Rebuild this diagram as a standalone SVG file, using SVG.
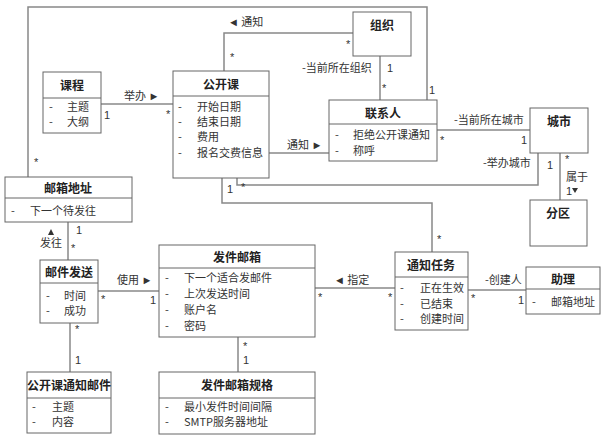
<svg xmlns="http://www.w3.org/2000/svg" width="606" height="443" viewBox="0 0 606 443">
<style>
.box{fill:#fff;stroke:#666;stroke-width:1}
.div{stroke:#666;stroke-width:1}
.t{font-family:"Noto Sans CJK SC","Noto Sans",sans-serif;font-size:12px;font-weight:bold;fill:#222;text-anchor:middle}
.a{font-family:"Noto Sans CJK SC","Noto Sans",sans-serif;font-size:11px;fill:#333}
.l{font-family:"Noto Sans CJK SC","Noto Sans",sans-serif;font-size:11px;fill:#333}
.m{font-family:"Liberation Sans","Noto Sans",sans-serif;font-size:11px;fill:#333}
.c{fill:none;stroke:#888;stroke-width:1.5}
.ar{fill:#333}
</style>
<rect width="606" height="443" fill="#fff"/>
<g id="connectors">
<polyline class="c" points="28,177 28,7 427,7 427,100"/>
<polyline class="c" points="224,71 224,33 353,33"/>
<polyline class="c" points="380,56 380,100"/>
<polyline class="c" points="101,104 173,104"/>
<polyline class="c" points="269,153 329,153"/>
<polyline class="c" points="437,130 530,130"/>
<polyline class="c" points="237,178 237,185 538,185 538,153"/>
<polyline class="c" points="222,178 222,203 432,203 432,252"/>
<polyline class="c" points="560,153 560,200"/>
<polyline class="c" points="68,222 68,260"/>
<polyline class="c" points="98,291 159,291"/>
<polyline class="c" points="315,288 395,288"/>
<polyline class="c" points="468,290 526,290"/>
<polyline class="c" points="70,323 70,372"/>
<polyline class="c" points="238,337 238,372"/>
<text class="m" x="34" y="166">*</text>
<text class="m" x="429" y="94">1</text>
<text class="l" x="228" y="26">◄ 通知</text>
<text class="m" x="230" y="61">*</text>
<text class="m" x="346" y="48">*</text>
<text class="l" x="302" y="72">-当前所在组织</text>
<text class="m" x="387" y="72">1</text>
<text class="m" x="382" y="92">*</text>
<text class="l" x="124" y="100">举办 ►</text>
<text class="m" x="104" y="119">1</text>
<text class="m" x="166" y="118">*</text>
<text class="l" x="287" y="149">通知 ►</text>
<text class="l" x="454" y="124">-当前所在城市</text>
<text class="m" x="440" y="144">*</text>
<text class="m" x="521" y="144">1</text>
<text class="l" x="483" y="167">-举办城市</text>
<text class="m" x="547" y="169">1</text>
<text class="m" x="227" y="193">1</text>
<text class="m" x="241" y="191">*</text>
<text class="m" x="437" y="243">*</text>
<text class="m" x="565" y="163">*</text>
<text class="l" x="566" y="181">属于</text>
<text class="m" x="566" y="195">1</text>
<polygon class="ar" points="572,188 578,188 575,193"/>
<polygon class="ar" points="51,229 48,235 54,235"/>
<text class="l" x="40" y="247">发往</text>
<text class="m" x="76" y="234">1</text>
<text class="m" x="71" y="252">*</text>
<text class="l" x="117" y="284">使用 ►</text>
<text class="m" x="101" y="303">*</text>
<text class="m" x="150" y="304">1</text>
<text class="l" x="334" y="284">◄ 指定</text>
<text class="m" x="318" y="301">*</text>
<text class="m" x="388" y="301">*</text>
<text class="l" x="485" y="284">-创建人</text>
<text class="m" x="471" y="302">*</text>
<text class="m" x="518" y="304">1</text>
<text class="m" x="75" y="333">*</text>
<text class="m" x="75" y="364">1</text>
<text class="m" x="243" y="350">*</text>
<text class="m" x="243" y="364">1</text>
</g>
<g id="course">
<rect class="box" x="43" y="72" width="58" height="61"/>
<line class="div" x1="43" y1="98" x2="101" y2="98"/>
<text class="t" x="72" y="90">课程</text>
<text class="a" x="49" y="111">-</text><text class="a" x="67" y="111">主题</text>
<text class="a" x="49" y="126">-</text><text class="a" x="67" y="126">大纲</text>
</g>
<g id="public-course">
<rect class="box" x="173" y="71" width="96" height="107"/>
<line class="div" x1="173" y1="96" x2="269" y2="96"/>
<text class="t" x="221" y="89">公开课</text>
<text class="a" x="178" y="111">-</text><text class="a" x="197" y="111">开始日期</text>
<text class="a" x="178" y="126">-</text><text class="a" x="197" y="126">结束日期</text>
<text class="a" x="178" y="141">-</text><text class="a" x="197" y="141">费用</text>
<text class="a" x="178" y="157">-</text><text class="a" x="197" y="157">报名交费信息</text>
</g>
<g id="org">
<rect class="box" x="353" y="12" width="58" height="44"/>
<text class="t" x="382" y="30">组织</text>
</g>
<g id="contact">
<rect class="box" x="329" y="100" width="108" height="61"/>
<line class="div" x1="329" y1="124" x2="437" y2="124"/>
<text class="t" x="383" y="118">联系人</text>
<text class="a" x="335" y="139">-</text><text class="a" x="353" y="139">拒绝公开课通知</text>
<text class="a" x="335" y="155">-</text><text class="a" x="353" y="155">称呼</text>
</g>
<g id="city">
<rect class="box" x="530" y="108" width="58" height="45"/>
<text class="t" x="559" y="126">城市</text>
</g>
<g id="district">
<rect class="box" x="530" y="200" width="57" height="46"/>
<text class="t" x="558" y="218">分区</text>
</g>
<g id="mail-address">
<rect class="box" x="5" y="177" width="127" height="45"/>
<line class="div" x1="5" y1="198" x2="132" y2="198"/>
<text class="t" x="68" y="193">邮箱地址</text>
<text class="a" x="11" y="215">-</text><text class="a" x="30" y="215">下一个待发往</text>
</g>
<g id="mail-send">
<rect class="box" x="40" y="260" width="58" height="63"/>
<line class="div" x1="40" y1="283" x2="98" y2="283"/>
<text class="t" x="69" y="277">邮件发送</text>
<text class="a" x="46" y="300">-</text><text class="a" x="64" y="300">时间</text>
<text class="a" x="46" y="315">-</text><text class="a" x="64" y="315">成功</text>
</g>
<g id="sender-mailbox">
<rect class="box" x="159" y="245" width="156" height="92"/>
<line class="div" x1="159" y1="268" x2="315" y2="268"/>
<text class="t" x="237" y="262">发件邮箱</text>
<text class="a" x="165" y="282">-</text><text class="a" x="184" y="282">下一个适合发邮件</text>
<text class="a" x="165" y="298">-</text><text class="a" x="184" y="298">上次发送时间</text>
<text class="a" x="165" y="314">-</text><text class="a" x="184" y="314">账户名</text>
<text class="a" x="165" y="330">-</text><text class="a" x="184" y="330">密码</text>
</g>
<g id="notify-task">
<rect class="box" x="395" y="252" width="73" height="78"/>
<line class="div" x1="395" y1="277" x2="468" y2="277"/>
<text class="t" x="431" y="270">通知任务</text>
<text class="a" x="400" y="292">-</text><text class="a" x="420" y="292">正在生效</text>
<text class="a" x="400" y="308">-</text><text class="a" x="420" y="308">已结束</text>
<text class="a" x="400" y="323">-</text><text class="a" x="420" y="323">创建时间</text>
</g>
<g id="assistant">
<rect class="box" x="526" y="267" width="74" height="47"/>
<line class="div" x1="526" y1="289" x2="600" y2="289"/>
<text class="t" x="563" y="284">助理</text>
<text class="a" x="532" y="306">-</text><text class="a" x="551" y="306">邮箱地址</text>
</g>
<g id="course-notify-mail">
<rect class="box" x="27" y="372" width="84" height="61"/>
<line class="div" x1="27" y1="398" x2="111" y2="398"/>
<text class="t" x="69" y="390">公开课通知邮件</text>
<text class="a" x="32" y="411">-</text><text class="a" x="52" y="411">主题</text>
<text class="a" x="32" y="426">-</text><text class="a" x="52" y="426">内容</text>
</g>
<g id="mailbox-spec">
<rect class="box" x="159" y="372" width="156" height="62"/>
<line class="div" x1="159" y1="398" x2="315" y2="398"/>
<text class="t" x="237" y="390">发件邮箱规格</text>
<text class="a" x="165" y="411">-</text><text class="a" x="184" y="411">最小发件时间间隔</text>
<text class="a" x="165" y="426">-</text><text class="a" x="184" y="426">SMTP服务器地址</text>
</g>
</svg>
